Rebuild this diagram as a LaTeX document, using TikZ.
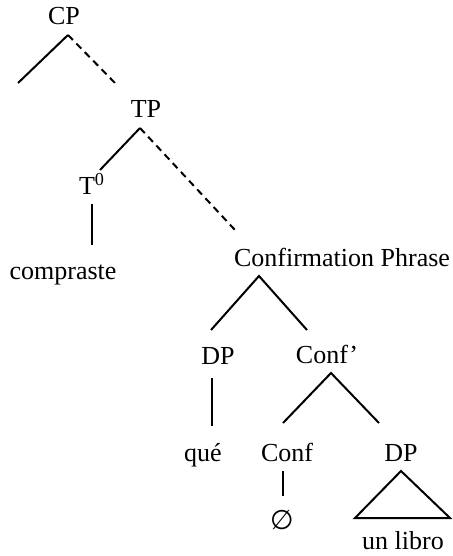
\documentclass[tikz,border=0pt]{standalone}
\usepackage{fontspec}
\setmainfont{Liberation Serif}
\newfontfamily\symfont{DejaVu Sans}
\begin{document}
\begin{tikzpicture}[x=0.5pt, y=-0.5pt, line width = 1pt,
    cat/.style = {anchor=base, inner sep=0pt, outer sep=2.5pt, text height=9pt, text depth=2.5pt, font=\fontsize{13}{15}\selectfont},
    dashbranch/.style = {dash pattern=on 3.5pt off 2.5pt}]
			\useasboundingbox (0,0) rectangle (452,556);
			% labels
			\node[cat] (cp) at (64,25) {CP};
			\node[cat] (tp) at (146,118) {TP};
			\node[cat] (t0) at (92,194) {T\textsuperscript{0}};
			\node[cat] (compraste) at (63,279) {compraste};
			\node[cat] (confp) at (342,266) {Confirmation Phrase};
			\node[cat] (dpq) at (218,364) {DP};
			\node[cat] (confbar) at (327,363) {Conf'};
			\node[cat] (que) at (203,461) {qué};
			\node[cat] (conf) at (287,461) {Conf};
			\node[cat] (dpl) at (401,461) {DP};
			\node[cat] (empty) at (282,529) {\symfont\fontsize{13.5}{15}\selectfont ∅};
			\node[cat] (libro) at (403,549) {un libro};
			% branch ends
			\coordinate (cpl) at (18,83);
			\coordinate (cpr) at (115,83);
			\coordinate (tpl) at (100,170);
			\coordinate (tpr) at (235,230);
			\coordinate (confpl) at (211,330);
			\coordinate (confpr) at (307,330);
			\coordinate (confbarl) at (283,423);
			\coordinate (confbarr) at (379,423);
			\coordinate (trl) at (355,518);
			\coordinate (trr) at (450,518);
			% branches
			\draw (cpl) -- ([xshift=2pt]cp.south);
			\draw [dashbranch] ([xshift=2pt]cp.south) -- (cpr);
			\draw (tpl) -- ([xshift=-3pt]tp.south);
			\draw [dashbranch] ([xshift=-3pt]tp.south) -- (tpr);
			\draw [shorten >=5.5pt] (t0.south) -- (t0.south |- compraste.north);
			\draw (confpl) -- ([xshift=-41.5pt]confp.south) -- (confpr);
			\draw [shorten <=2pt, shorten >=6pt] ([xshift=-3pt]dpq.south) -- ([xshift=-3pt]dpq.south |- que.north);
			\draw (confbarl) -- ([xshift=2pt]confbar.south) -- (confbarr);
			\draw [shorten >=5pt] ([xshift=-2pt]conf.south) -- ([xshift=-2pt]conf.south |- empty.north);
			\draw (dpl.south) -- (trr) -- (trl) -- cycle;
			\end{tikzpicture}
\end{document}
